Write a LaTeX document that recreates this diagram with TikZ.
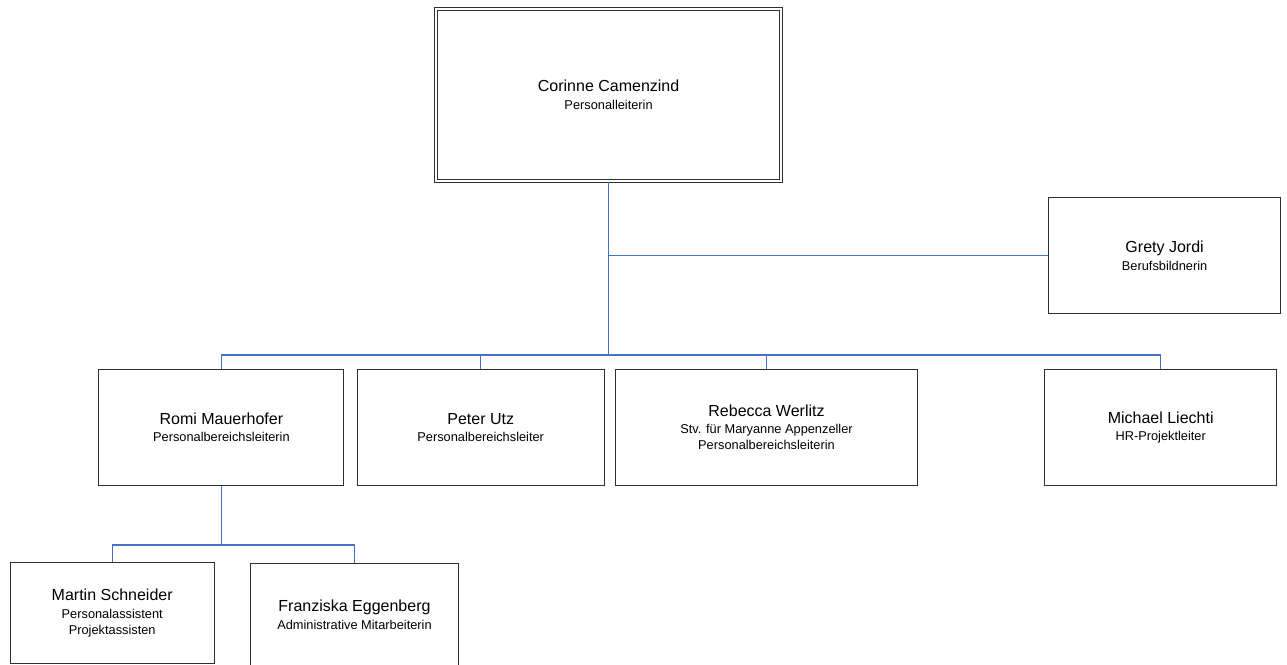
\documentclass[tikz,border=0pt]{standalone}
\usepackage{fontspec}
\setmainfont{Liberation Sans}
\definecolor{conblue}{HTML}{4472C4}
\definecolor{boxline}{HTML}{303030}
\newcommand\pname[1]{{\fontsize{16}{18}\selectfont #1}\\[1.5pt]}
\begin{document}
\begin{tikzpicture}[x=1pt,y=-1pt,
  box/.style={draw=boxline, line width=0.9pt, rectangle, inner sep=0pt, align=center,
    minimum height=116pt, font=\fontsize{12.8}{16}\selectfont},
  con/.style={draw=conblue, line width=1.25pt}]
\useasboundingbox (0,0) rectangle (1287,664);
\fill[white] (0,0) rectangle (1287,664);
% boxes
\node[box, double=white, line width=0.8pt, double distance=2.2pt, minimum width=344.8pt, minimum height=172.5pt] (top) at (608.6,95) {\pname{Corinne Camenzind}Personalleiterin};
\node[box, minimum width=232pt] (grety) at (1164.6,255.8) {\pname{Grety Jordi}Berufsbildnerin};
\node[box, minimum width=245pt] (romi) at (221.4,427.5) {\pname{Romi Mauerhofer}Personalbereichsleiterin};
\node[box, minimum width=247pt] (peter) at (480.7,427.5) {\pname{Peter Utz}Personalbereichsleiter};
\node[box, minimum width=302.4pt] (rebecca) at (766.5,427.5) {\pname{Rebecca Werlitz}Stv. für Maryanne Appenzeller\\Personalbereichsleiterin};
\node[box, minimum width=232pt] (michael) at (1160.7,427.5) {\pname{Michael Liechti}HR-Projektleiter};
\node[box, minimum width=203.7pt, minimum height=101.8pt] (martin) at (112.2,612.9) {\pname{Martin Schneider}Personalassistent\\Projektassisten};
\node[box, minimum width=207.6pt, minimum height=101.8pt] (franz) at (354.5,614.6) {\pname{Franziska Eggenberg}Administrative Mitarbeiterin};
% connectors
\coordinate (bus) at (608.6,355);
\coordinate (rbus) at (221.4,545);
\path[con] (top.south) -- (bus);
\path[con] (grety.west) -- (grety.west -| top.south);
\path[con] (romi.north) |- (bus);
\path[con] (peter.north) |- (bus);
\path[con] (rebecca.north) |- (bus);
\path[con] (michael.north) |- (bus);
\path[con] (romi.south) -- (rbus);
\path[con] (martin.north) |- (rbus);
\path[con] (franz.north) |- (rbus);
\end{tikzpicture}
\end{document}
